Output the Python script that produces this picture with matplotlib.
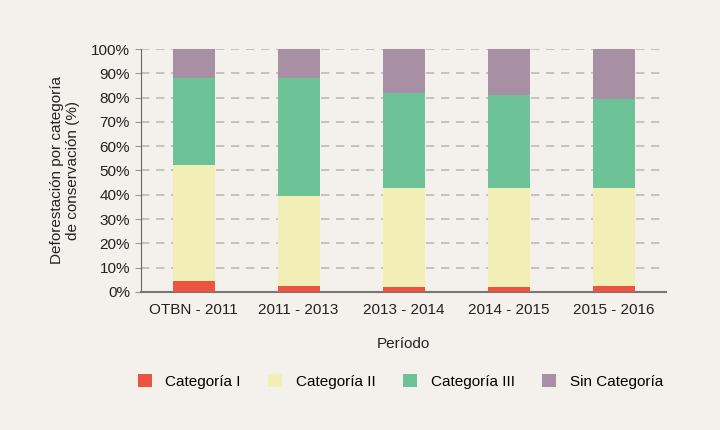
import matplotlib
matplotlib.use("Agg")
import matplotlib.pyplot as plt
import numpy as np
from matplotlib.patches import Patch

plt.rcParams["font.family"] = ["Liberation Sans", "DejaVu Sans"]

periods = ["OTBN - 2011", "2011 - 2013", "2013 - 2014", "2014 - 2015", "2015 - 2016"]
cat_i   = [4.5, 2.5, 2.0, 2.0, 2.6]
cat_ii  = [47.9, 37.2, 40.8, 41.0, 40.0]
cat_iii = [35.6, 48.3, 39.3, 38.1, 37.0]
sin_cat = [12.0, 12.0, 17.9, 18.9, 20.4]

labels  = ["Categoría I", "Categoría II", "Categoría III", "Sin Categoría"]
colours = ["#ea5440", "#f1efb5", "#6dc297", "#a890a4"]
bg      = "#f4f1ec"

fig = plt.figure(figsize=(7.2, 4.3), dpi=100, facecolor=bg)
ax = fig.add_axes([0.196, 0.321, 0.729, 0.565], facecolor=bg)

x = np.arange(len(periods))
bottom = np.zeros(len(periods))
for series, col in zip([cat_i, cat_ii, cat_iii, sin_cat], colours):
    ax.bar(x, series, width=0.4, bottom=bottom, color=col, zorder=3)
    bottom += np.array(series)

ax.set_xlim(-0.5, 4.5)
ax.set_ylim(0, 100)
ax.set_yticks(np.arange(0, 101, 10))
ax.set_yticklabels([f"{v}%" for v in range(0, 101, 10)], fontsize=11, color="#222222")
ax.set_xticks(x)
ax.set_xticklabels(periods, fontsize=11, color="#222222")
ax.tick_params(axis="x", length=0, pad=8)
ax.tick_params(axis="y", length=4, color="#999999", pad=4)

ax.yaxis.grid(True, linestyle=(0, (5, 4)), color="#bdbab6", linewidth=1.2, zorder=0)
for s in ["top", "right"]:
    ax.spines[s].set_visible(False)
ax.spines["left"].set_color("#666666")
ax.spines["bottom"].set_color("#777777")
ax.spines["bottom"].set_linewidth(1.5)

ax.set_ylabel("Deforestación por categoría\nde conservación (%)", fontsize=11,
              color="#222222", labelpad=8)
ax.set_xlabel("Período", fontsize=11, color="#222222", labelpad=14)

handles = [Patch(facecolor=c, edgecolor="none") for c in colours]
fig.legend(handles, labels, loc="center", bbox_to_anchor=(0.556, 0.113), ncol=4,
           frameon=False, fontsize=11, handlelength=0.9, handleheight=0.9,
           columnspacing=1.8, handletextpad=0.9)

fig.savefig("out.png", dpi=100, facecolor=bg)
